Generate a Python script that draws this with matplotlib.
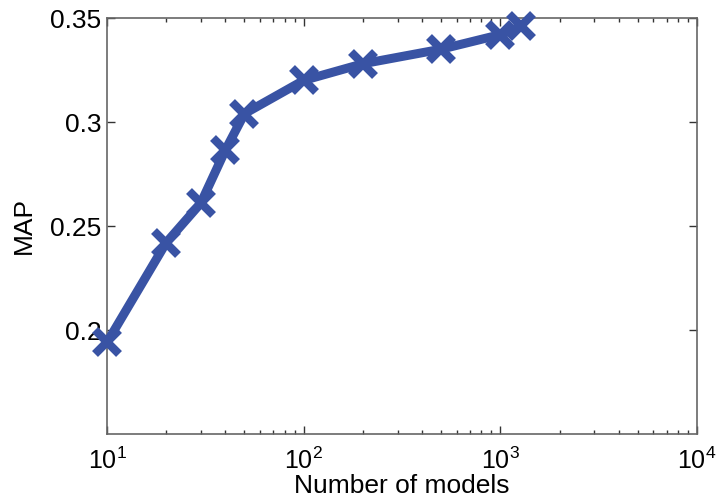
import matplotlib.pyplot as plt
import numpy as np

plt.rcParams['font.family'] = ['Liberation Sans', 'DejaVu Sans']
plt.rcParams['mathtext.fontset'] = 'custom'
plt.rcParams['mathtext.rm'] = 'Liberation Sans'

# number of models vs MAP
n_models = [10, 20, 30, 40, 50, 100, 200, 500, 1000, 1280]
map_vals = [0.194, 0.242, 0.261, 0.2865, 0.304, 0.320, 0.328, 0.335, 0.342, 0.346]
y_ticks = [0.2, 0.25, 0.3, 0.35]

fig = plt.figure(figsize=(7.16, 5.04), dpi=100)
ax = fig.add_axes([107/716, 1 - 434/504, 590/716, 416/504])

ax.plot(n_models, map_vals, color='#3953a4', linewidth=6.5,
        marker='x', markersize=17, markeredgewidth=6, clip_on=False, zorder=5)

ax.set_xscale('log')
ax.set_xlim(10, 1e4)
ax.set_ylim(0.15, 0.35)
ax.set_yticks(y_ticks)
ax.set_yticklabels(['0.2', '0.25', '0.3', '0.35'])

ax.tick_params(which='both', direction='in', top=True, right=True,
               labelsize=19, color='#333333')
ax.tick_params(which='major', length=6, width=1)
ax.tick_params(which='minor', length=3, width=1)
ax.tick_params(axis='x', pad=10, labelsize=18)
ax.tick_params(axis='y', pad=4)
for s in ax.spines.values():
    s.set_color('#666666')
    s.set_linewidth(1.2)

ax.set_xlabel('Number of models', fontsize=19, labelpad=0)
ax.set_ylabel('MAP', fontsize=19, labelpad=10)

fig.savefig('out.png', dpi=100)
